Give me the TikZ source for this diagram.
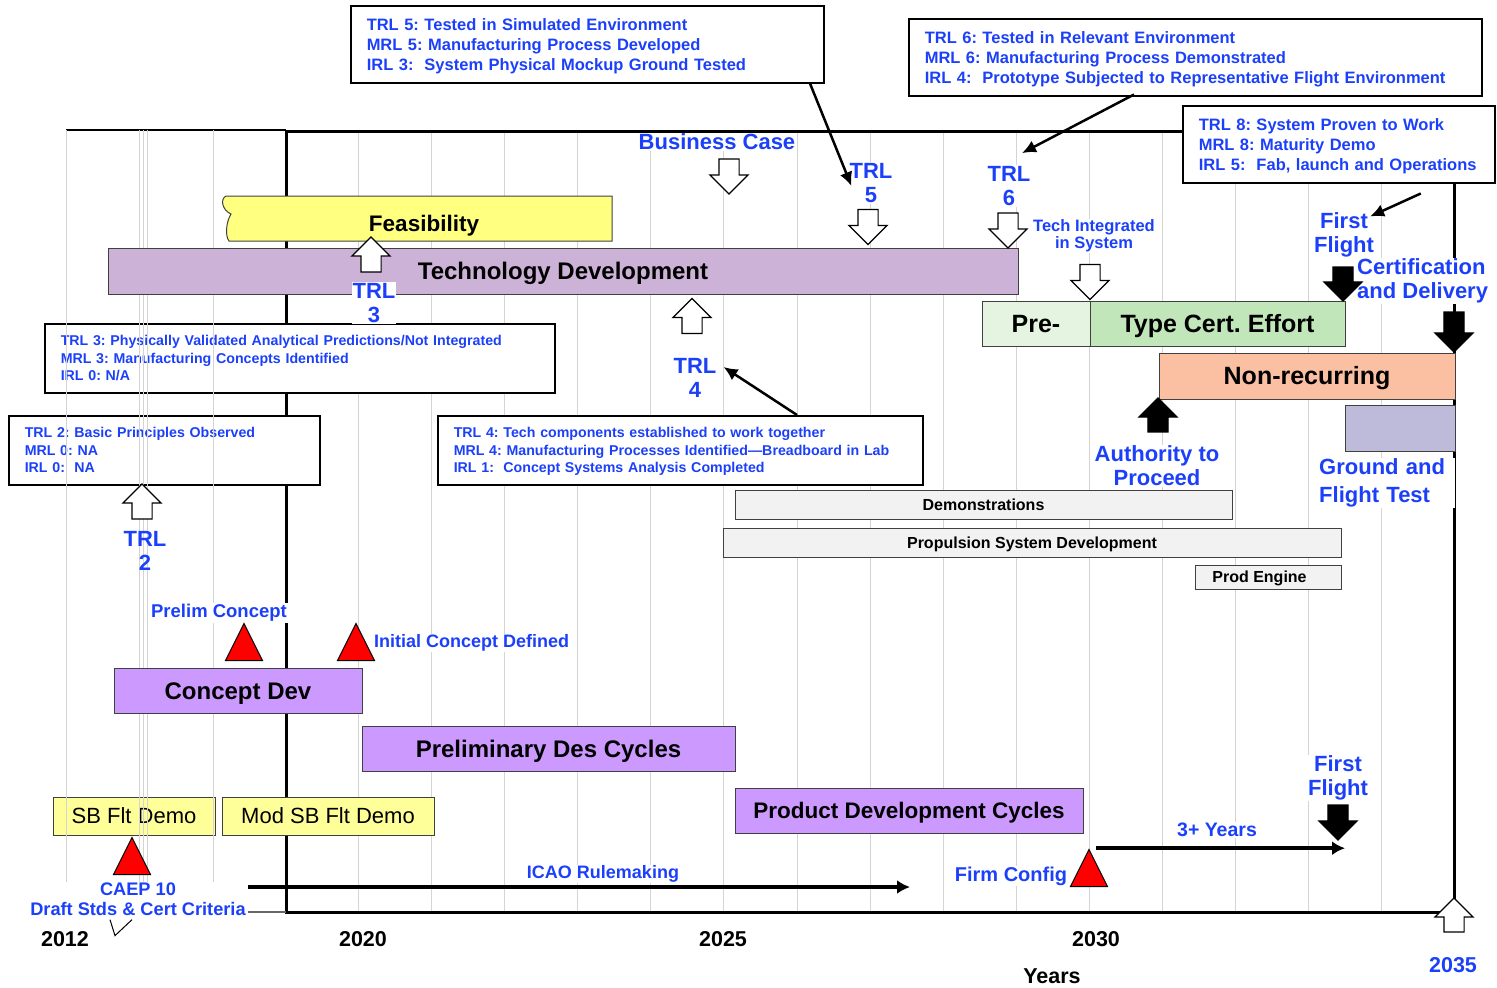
\documentclass[tikz,border=0pt]{standalone}
\usepackage{fontspec}
\setmainfont{Liberation Sans}
\usetikzlibrary{positioning,shapes.arrows,shapes.geometric,arrows.meta}
\frenchspacing

\definecolor{labelblue}{RGB}{28,64,250}
\definecolor{feascol}{RGB}{255,255,128}
\definecolor{techcol}{RGB}{204,178,214}
\definecolor{precol}{RGB}{229,244,224}
\definecolor{certcol}{RGB}{192,230,185}
\definecolor{nonreccol}{RGB}{251,191,162}
\definecolor{testcol}{RGB}{189,187,217}
\definecolor{demogray}{RGB}{242,242,242}
\definecolor{conceptcol}{RGB}{204,153,255}
\definecolor{sbcol}{RGB}{255,255,153}
\definecolor{gridgray}{RGB}{212,212,212}

\begin{document}
\begin{tikzpicture}[x=1pt, y=-1pt]
		\tikzstyle{infobox} = [rectangle, draw=black, line width=1.5pt, fill=white, anchor=north west, align=left, text=labelblue, inner xsep=16pt, text depth=40pt, font=\bfseries\fontsize{16.5}{20}\selectfont];
		\tikzstyle{smallinfo} = [infobox, text depth=35pt, font=\bfseries\fontsize{14.2}{17.5}\selectfont];
		\tikzstyle{bar} = [rectangle, draw=black!75, line width=1pt, anchor=north west, inner sep=0pt, outer sep=0pt, text height=17.2pt, text depth=0pt, font=\bfseries\fontsize{24}{28}\selectfont];
		\tikzstyle{bigbar} = [bar, text height=17.9pt, font=\bfseries\fontsize{25}{28}\selectfont];
		\tikzstyle{graybar} = [bar, fill=demogray, text height=11.5pt, font=\bfseries\fontsize{16}{20}\selectfont];
		\tikzstyle{flag} = [text=labelblue, fill=white, align=center, inner sep=1pt, font=\bfseries\fontsize{22}{24}\selectfont];
		\tikzstyle{note} = [text=labelblue, fill=white, inner sep=1pt, font=\bfseries\fontsize{18}{20}\selectfont];
		\tikzstyle{year} = [inner sep=1pt, font=\bfseries\fontsize{21.5}{24}\selectfont];
		\tikzstyle{hollowarrow} = [single arrow, draw=black, fill=white, line width=1.2pt, inner xsep=0pt, inner ysep=9.5pt, single arrow head extend=9pt, minimum height=35pt];
		\tikzstyle{solidarrow} = [hollowarrow, fill=black];
		\tikzstyle{milestone} = [isosceles triangle, shape border rotate=90, isosceles triangle stretches, draw=black, fill=red, line width=1pt, inner sep=0pt, minimum width=37pt, minimum height=37pt, anchor=south];
		\tikzstyle{pointer} = [draw=black, line width=2.5pt, -{Latex[length=14pt,width=13pt]}];
		\tikzstyle{span} = [draw=black, line width=4pt, -{Latex[length=13pt,width=14pt]}];
		\tikzstyle{gridline} = [draw=gridgray, line width=1pt];
		\tikzstyle{frame} = [draw=black, line width=3pt];

		\useasboundingbox (0,0) rectangle (1497,988);

		\foreach \i in {3,...,19}
			\draw[gridline] ({66+73.1*\i},130) -- ({66+73.1*\i},912);

		\draw[frame, line width=2pt] (66,130) -- (286,130);
		\draw[frame] (286,131) -- (1182,131);
		\draw[frame] (286,130) -- (286,912) -- (1454,912) -- (1454,182);

		\node[infobox, text width=441pt, minimum height=77pt](trl5box) at (350,5){TRL 5: Tested in Simulated Environment\\MRL 5: Manufacturing Process Developed\\IRL 3:\ \ System Physical Mockup Ground Tested};
		\node[infobox, text width=541pt, minimum height=77pt](trl6box) at (908,18){TRL 6: Tested in Relevant Environment\\MRL 6: Manufacturing Process Demonstrated\\IRL 4:\ \ Prototype Subjected to Representative Flight Environment};
		\node[infobox, text width=280pt, minimum height=77pt](trl8box) at (1182,105){TRL 8: System Proven to Work\\MRL 8: Maturity Demo\\IRL 5:\ \ Fab, launch and Operations};
		\node[smallinfo, text width=478pt, minimum height=69pt](trl3box) at (44,323){TRL 3: Physically Validated Analytical Predictions/Not Integrated\\MRL 3: Manufacturing Concepts Identified\\IRL 0: N/A};
		\node[smallinfo, text width=279pt, minimum height=69pt](trl2box) at (8,415){TRL 2: Basic Principles Observed\\MRL 0: NA\\IRL 0:\ \ NA};
		\node[smallinfo, text width=453pt, minimum height=69pt](trl4box) at (437,415){TRL 4: Tech components established to work together\\MRL 4: Manufacturing Processes Identified—Breadboard in Lab\\IRL 1:\ \ Concept Systems Analysis Completed};

		\node[bar, fill=sbcol, text height=15.8pt, font=\fontsize{22}{26}\selectfont, minimum width=162pt, minimum height=38pt](sbflt) at (53,797){SB Flt Demo};
		\node[bar, fill=sbcol, text height=15.8pt, font=\fontsize{22}{26}\selectfont, minimum width=212pt, minimum height=38pt](modsb) at (222,797){Mod SB Flt Demo};

		\foreach \x in {66,139.5,143,147,213}
			\draw[gridline] (\x,130) -- (\x,912);

		\draw[draw=black!75, line width=1pt, fill=feascol] (226,196) .. controls (220,199) and (222,210) .. (231,214) .. controls (226,222) and (225,236) .. (229,241) -- (612,241) -- (612,196) -- cycle;
		\node[text height=16.1pt, text depth=0pt, font=\bfseries\fontsize{22.5}{26}\selectfont](feas) at (424,223){Feasibility};
		\node[bar, fill=techcol, minimum width=910pt, minimum height=46pt](techdev) at (108,248){Technology Development};
		\node[bigbar, fill=precol, minimum width=108pt, minimum height=45pt](pre) at (982,301){Pre-};
		\node[bigbar, fill=certcol, minimum width=255pt, minimum height=45pt, right=0pt of pre](typecert){Type Cert. Effort};
		\node[bigbar, fill=nonreccol, minimum width=296pt, minimum height=46pt](nonrec) at (1159,353){Non-recurring};
		\node[bar, fill=testcol, minimum width=110pt, minimum height=46pt](testbox) at (1345,405){};
		\node[graybar, minimum width=497pt, minimum height=29pt](demos) at (735,490){Demonstrations};
		\node[graybar, minimum width=618pt, minimum height=29pt](propsys) at (723,528){Propulsion System Development};
		\node[graybar, minimum width=146pt, minimum height=24pt](prodeng) at (1195,565){Prod Engine\kern17pt};
		\node[bar, fill=conceptcol, minimum width=248pt, minimum height=45pt](conceptdev) at (114,668){Concept Dev};
		\node[bar, fill=conceptcol, minimum width=373pt, minimum height=45pt](prelimdes) at (362,726){Preliminary Des Cycles};
		\node[bar, fill=conceptcol, minimum width=348pt, minimum height=45pt, text height=16.1pt, font=\bfseries\fontsize{22.5}{26}\selectfont](proddev) at (735,788){Product Development Cycles};

		\node[flag](bizcase) at (717,142){Business Case};
		\node[flag](trl5) at (871,183){TRL\\5};
		\node[flag](trl6) at (1009,186){TRL\\6};
		\node[flag, font=\bfseries\fontsize{16.5}{17}\selectfont](techint) at (1094,236){Tech Integrated\\in System};
		\node[flag](trl3) at (374,303){TRL\\3};
		\node[flag](trl4) at (695,378){TRL\\4};
		\node[flag, fill=none](trl2) at (145,551){TRL\\2};
		\node[flag](firstflight) at (1344,235){First\\Flight};
		\node[flag, align=left, anchor=west](certdel) at (1356,281){Certification\\and Delivery};
		\node[flag](atp) at (1157,466){Authority to\\Proceed};
		\node[flag, align=left, anchor=west, text width=135pt, font=\bfseries\fontsize{22}{28}\selectfont](groundtest) at (1318,483){Ground and\\Flight Test};
		\node[note, font=\bfseries\fontsize{18.5}{20}\selectfont](prelimcon) at (219,613){Prelim Concept};
		\node[note, anchor=west](initcon) at (373,643){Initial Concept Defined};
		\node[note, align=center, font=\bfseries\fontsize{18.2}{20}\selectfont](caep) at (138,899){CAEP 10\\Draft Stds \& Cert Criteria};
		\node[note](icao) at (603,874){ICAO Rulemaking};
		\node[note, font=\bfseries\fontsize{20}{22}\selectfont](firmconfig) at (1011,876){Firm Config};
		\node[note, font=\bfseries\fontsize{19.5}{22}\selectfont](threeyears) at (1217,830){3+ Years};
		\node[flag](firstflight2) at (1338,778){First\\Flight};

		\node[year](y2012) at (65,939){2012};
		\node[year](y2020) at (363,939){2020};
		\node[year](y2025) at (723,939){2025};
		\node[year](y2030) at (1096,939){2030};
		\node[year](years) at (1052,976){Years};
		\node[year, text=labelblue](y2035) at (1453,965){2035};

		\node[hollowarrow, rotate=-90](bizarrow) at (729,171.5){};
		\node[hollowarrow, rotate=-90](trl5arrow) at (868,222){};
		\node[hollowarrow, rotate=-90](trl6arrow) at (1008,225.5){};
		\node[hollowarrow, rotate=-90](techintarrow) at (1090,277){};
		\node[hollowarrow, rotate=90](trl3arrow) at (371,259.5){};
		\node[hollowarrow, rotate=90](trl4arrow) at (692,321){};
		\node[hollowarrow, rotate=90](trl2arrow) at (142,506.5){};
		\node[hollowarrow, rotate=90, minimum height=34pt](endarrow) at (1454,920){};
		\node[solidarrow, rotate=-90, minimum height=34pt](ffarrow) at (1343,279){};
		\node[solidarrow, rotate=-90, minimum height=40pt](certarrow) at (1454,327){};
		\node[solidarrow, rotate=90, minimum height=34pt](atparrow) at (1158,420){};
		\node[solidarrow, rotate=-90](ffarrow2) at (1338,817.5){};

		\node[milestone](prelimmark) at (244,661){};
		\node[milestone](initmark) at (356,661){};
		\node[milestone](caepmark) at (132,875){};
		\node[milestone](firmmark) at (1089,887){};

		\coordinate (icaofrom) at (248,887);
		\coordinate (icaoto) at (910,887);
		\coordinate (caeptail) at (248,912);

		\path ([xshift=460pt]trl5box.south west) edge[pointer] ([shift={(3,3)}]trl5.west)
		([xshift=226pt, yshift=2pt]trl6box.south west) edge[pointer] ([shift={(13,-12)}]trl6.north)
		([shift={(82,10)}]trl8box.south) edge[pointer] ([shift={(-5,5)}]firstflight.north east)
		([xshift=360pt]trl4box.north west) edge[pointer] ([shift={(6,-11)}]trl4.east);

		\path (icaofrom) edge[span] (icaoto)
		([xshift=7pt]firmmark.north) edge[span] ++(249,0);

		\draw[draw=black!60, line width=1.5pt] (caeptail) -- (286,912);
		\draw[line width=1pt] ([shift={(-28,3)}]caep.south) -- ++(5,16) -- ++(17,-16);
\end{tikzpicture}
\end{document}
